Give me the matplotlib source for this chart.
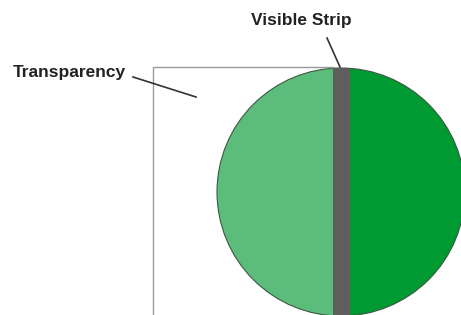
import matplotlib.pyplot as plt
from matplotlib.patches import Wedge, Circle, Rectangle

# diagram pieces (pixel coords, y grows downward)
circle_center = (341, 192)
circle_radius = 124
strip_x = (333, 350)
frame_box = (153, 67, 333, 330)   # left, top, right, bottom
labels = ['Transparency', 'Visible Strip']
label_pos = [(13, 72), (301, 20)]
leader_lines = [((133, 77), (196, 97)), ((327, 38), (340, 67))]

LIGHT_GREEN = '#5cbc7c'
DARK_GREEN = '#009a33'
STRIP_GRAY = '#5f5d5e'

fig = plt.figure(figsize=(4.61, 3.15), dpi=100)
ax = fig.add_axes([0, 0, 1, 1])
ax.set_xlim(0, 461)
ax.set_ylim(315, 0)
ax.axis('off')

# transparency frame
l, t, r, b = frame_box
ax.plot([r, l, l], [t, t, b], color='#9a9a9a', lw=1.0)

# circle halves
cx, cy = circle_center
ax.add_patch(Wedge(circle_center, circle_radius, 90, 270, facecolor=LIGHT_GREEN, edgecolor='none'))
ax.add_patch(Wedge(circle_center, circle_radius, -90, 90, facecolor=DARK_GREEN, edgecolor='none'))
ax.add_patch(Circle(circle_center, circle_radius, facecolor='none', edgecolor='#3a5a40', lw=0.8))

# visible strip
ax.add_patch(Rectangle((strip_x[0], cy - circle_radius), strip_x[1] - strip_x[0], 2 * circle_radius,
                       facecolor=STRIP_GRAY, edgecolor='none'))

for text, (x, y), ha in zip(labels, label_pos, ['left', 'center']):
    ax.text(x, y, text, fontsize=12.5, fontweight='bold', family='Liberation Sans',
            color='#222222', ha=ha, va='center')

for (x0, y0), (x1, y1) in leader_lines:
    ax.plot([x0, x1], [y0, y1], color='#333333', lw=1.2)

fig.savefig('out.png', dpi=100)
